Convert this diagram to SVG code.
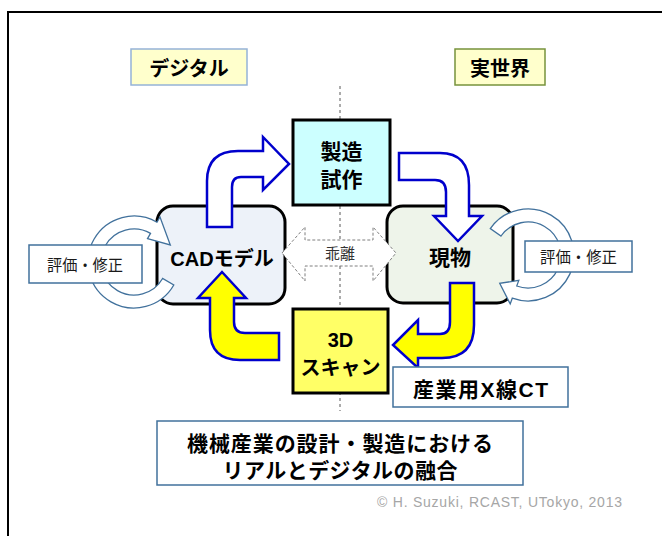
<svg xmlns="http://www.w3.org/2000/svg" width="662" height="536" viewBox="0 0 662 536">
<style>
.jp{font-family:"Liberation Sans","Noto Sans CJK JP",sans-serif;font-weight:bold;fill:#000;text-anchor:middle}
.ev{font-family:"Noto Sans CJK JP",sans-serif;font-size:16px;fill:#1a1a1a;text-anchor:middle}
.box{stroke:#000;stroke-width:3}
.thin{fill:#fff;stroke:#41719C;stroke-width:1.5}
.blue{fill:#fff;stroke:#0000CC;stroke-width:2.5;stroke-linejoin:miter}
.yel{fill:#FFFF00;stroke:#0000CC;stroke-width:2.5;stroke-linejoin:miter}
.ring{fill:#fff;stroke:#41719C;stroke-width:1.3}
</style>
<rect x="0" y="0" width="662" height="536" fill="#fff"/>
<rect x="8" y="12" width="700" height="600" fill="none" stroke="#000" stroke-width="2"/>
<g id="divider"><line x1="340" y1="86" x2="340" y2="411" stroke="#595959" stroke-width="1" stroke-dasharray="3,3"/></g>

<g id="label-digital"><rect x="131" y="49" width="116" height="36" fill="#FFFFCC" stroke="#95B3D7" stroke-width="1.5"/><text class="jp" x="189" y="76" font-size="20">デジタル</text></g>
<g id="label-real"><rect x="455" y="49" width="90" height="36" fill="#FFFFCC" stroke="#77933C" stroke-width="1.5"/><text class="jp" x="500" y="76" font-size="20">実世界</text></g>

<g id="node-seizo"><rect class="box" x="293" y="120" width="97" height="85" fill="#CCFFFF"/><text class="jp" x="341.5" y="159" font-size="21">製造</text><text class="jp" x="341.5" y="187" font-size="21">試作</text></g>
<g id="node-cad"><rect class="box" x="157" y="206" width="128" height="98" rx="16" fill="#EDF2F9"/><text class="jp" x="222" y="266" font-size="20">CADモデル</text></g>
<g id="node-genbutsu"><rect class="box" x="387" y="206" width="126" height="97" rx="16" fill="#EEF4EA"/><text class="jp" x="450" y="265" font-size="21">現物</text></g>
<g id="node-scan"><rect class="box" x="293" y="309" width="95" height="84" fill="#FFFF66"/><text class="jp" x="340.5" y="347" font-size="20">3D</text><text class="jp" x="340.5" y="375" font-size="20">スキャン</text></g>

<g id="connectors">
<path id="kairi" d="M282,253 L305,227 L305,240 L373,240 L373,227 L396,253 L373,281 L373,266 L305,266 L305,281 Z" fill="#fff" stroke="#7F7F7F" stroke-width="1" stroke-dasharray="3,2"/>
<text x="340" y="259" font-family="Noto Sans CJK JP,sans-serif" font-size="15" fill="#333" text-anchor="middle">乖離</text>
<path class="blue" d="M207,227 L207,181 Q207,151 238,151 L263,151 L263,137 L289,164 L263,190 L263,177 L241,177 Q232,177 232,187 L232,227 Z"/>
<path class="blue" d="M399,153 L440,153 Q469,153 469,185 L469,216 L482,216 L458,241 L434,216 L446,216 L446,192 Q446,180 435,180 L399,180 Z"/>
<path class="yel" d="M450,283 L474,283 L474,325 Q474,358 442,358 L418,358 L418,368 L393,345 L418,320 L418,334 L440,334 Q450,334 450,322 Z"/>
<path class="yel" d="M279,333 L279,360 L240,360 Q210,360 210,330 L210,298 L198,298 L222,272 L246,298 L234,298 L234,322 Q234,333 245,333 Z"/>
<path class="ring" d="M173.8,285 A46,46 0 1 1 157,222.2 L160,217 L170.3,245 L147.5,238.6 L150.5,233.4 A33,33 0 1 0 162.6,278.5 Z"/>
<path class="ring" d="M490.3,228.6 A46,46 0 1 1 512.3,298.2 L510.2,303.9 L499.7,283.3 L518.8,280.4 L516.7,286 A33,33 0 1 0 501,236 Z"/>
</g>

<g id="eval-left"><rect class="thin" x="29" y="245" width="113" height="38"/><text class="ev" x="85" y="271" textLength="76" lengthAdjust="spacingAndGlyphs">評価・修正</text></g>
<g id="eval-right"><rect class="thin" x="525" y="241" width="107" height="31"/><text class="ev" x="578.5" y="263" textLength="77" lengthAdjust="spacingAndGlyphs">評価・修正</text></g>
<g id="label-ct"><rect class="thin" x="393" y="367" width="175" height="40"/><text class="jp" x="480.5" y="397" font-size="21" textLength="135" lengthAdjust="spacing">産業用X線CT</text></g>
<g id="caption"><rect class="thin" x="157" y="421" width="366" height="64"/><text class="jp" x="340" y="451" font-size="21" textLength="306" lengthAdjust="spacing">機械産業の設計・製造における</text><text class="jp" x="340" y="478" font-size="21" textLength="235" lengthAdjust="spacing">リアルとデジタルの融合</text></g>
<text x="377" y="507" font-family="Liberation Sans,sans-serif" font-size="14" fill="#A6A6A6" textLength="245" lengthAdjust="spacing">© H. Suzuki, RCAST, UTokyo, 2013</text>
</svg>
